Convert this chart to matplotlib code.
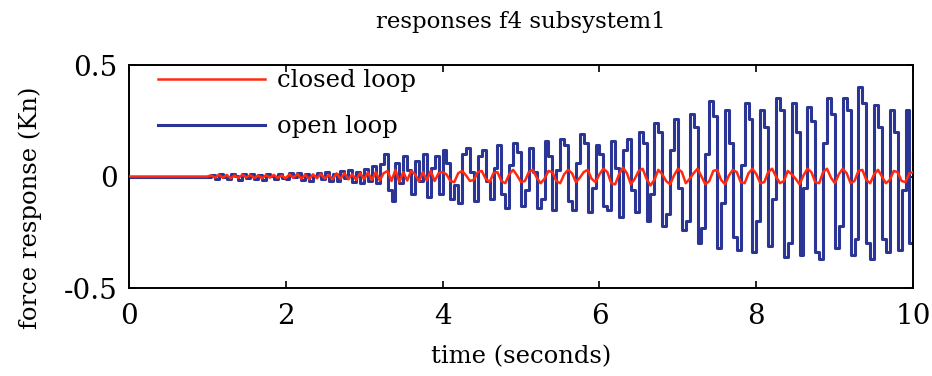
import numpy as np
import matplotlib
matplotlib.use("Agg")
import matplotlib.pyplot as plt

# ---- data (dt = 0.05 s, starting at t = 1.0 s) ----
t_start = 1.0
dt = 0.05

open_loop = [
    # 1.00 - 1.95 s
    0.0, 0.006, -0.01, 0.012, -0.004, -0.012, 0.01, 0.004, -0.014, 0.01,
    -0.005, 0.012, -0.01, 0.006, -0.014, 0.01, 0.002, -0.012, 0.012, -0.006,
    # 2.00 - 2.95 s
    -0.012, 0.015, -0.004, 0.018, -0.015, 0.01, -0.02, 0.004, 0.015, -0.012,
    0.02, -0.018, 0.012, -0.02, 0.025, -0.005, 0.03, -0.025, 0.02, -0.03,
    # 3.00 - 3.95 s
    0.035, -0.02, 0.045, -0.03, 0.055, 0.1, -0.06, -0.11, 0.06, -0.03,
    0.09, 0.03, -0.08, 0.07, -0.02, 0.1, -0.09, 0.04, 0.09, -0.08,
    # 4.00 - 4.95 s
    0.12, 0.06, -0.1, -0.04, -0.12, 0.1, 0.13, 0.02, -0.11, 0.09,
    0.12, -0.02, -0.1, 0.04, 0.14, -0.08, -0.14, 0.05, 0.15, 0.11,
    # 5.00 - 5.95 s
    -0.13, -0.06, 0.13, 0.02, -0.14, -0.1, 0.16, 0.09, -0.15, 0.03,
    0.17, 0.14, -0.11, -0.15, 0.06, 0.19, 0.15, -0.16, -0.05, 0.14,
    # 6.00 - 6.95 s
    0.1, -0.13, -0.15, 0.16, 0.04, -0.18, 0.12, 0.17, -0.06, -0.16,
    0.2, 0.15, -0.2, -0.08, 0.24, 0.2, -0.22, -0.17, 0.12, 0.26,
    # 7.00 - 7.95 s
    -0.05, -0.24, -0.2, 0.28, 0.22, -0.3, -0.23, 0.1, 0.34, 0.27,
    -0.32, -0.12, 0.3, 0.15, -0.27, -0.33, 0.05, 0.33, 0.26, -0.34,
    # 8.00 - 8.95 s
    -0.2, 0.3, 0.22, -0.31, -0.1, 0.35, 0.3, -0.36, -0.3, 0.33,
    0.2, -0.35, -0.05, 0.31, 0.25, -0.34, -0.37, 0.15, 0.35, 0.28,
    # 9.00 - 10.00 s
    -0.32, -0.22, 0.35, 0.3, -0.35, -0.28, 0.4, 0.33, -0.3, -0.37,
    0.32, 0.22, -0.28, -0.34, 0.3, 0.2, -0.33, -0.06, 0.3, -0.3,
    0.1,
]

closed_loop = [
    0.0, 0.005, -0.005, 0.008, -0.006, 0.007, -0.008, 0.005, -0.006, 0.008,
    -0.004, 0.006, -0.007, 0.005, -0.008, 0.006, -0.005, 0.007, -0.006, 0.005,
    -0.008, 0.01, -0.006, 0.012, -0.01, 0.008, -0.012, 0.01, -0.008, 0.012,
    -0.01, 0.008, -0.012, 0.014, -0.01, 0.015, -0.012, 0.01, -0.015, 0.016,
    -0.012, 0.018, -0.015, 0.02, -0.018, 0.015, 0.025, -0.02, 0.03, -0.025,
    0.02, -0.018, 0.025, 0.01, -0.022, 0.02, -0.018, 0.025, -0.02, 0.015,
    0.02, 0.01, -0.02, -0.025, 0.015, 0.025, 0.005, -0.02, -0.015, 0.02,
    0.025, -0.01, -0.025, 0.015, 0.02, -0.02, -0.03, 0.01, 0.03, 0.005,
    -0.025, -0.02, 0.02, 0.03, -0.005, -0.03, -0.01, 0.025, 0.02, -0.02,
    -0.03, 0.01, 0.03, 0.015, -0.025, -0.005, 0.02, 0.03, -0.01, -0.025,
    0.01, 0.035, 0.02, -0.03, -0.035, 0.01, 0.04, 0.015, -0.035, -0.01,
    0.025, 0.035, -0.01, -0.04, -0.015, 0.03, 0.01, -0.02, -0.035, 0.005,
    0.035, 0.02, -0.03, -0.01, 0.015, 0.035, 0.0, -0.035, -0.02, 0.025,
    0.03, -0.015, -0.035, 0.005, 0.03, 0.02, -0.025, -0.03, 0.015, 0.035,
    0.01, -0.03, -0.025, 0.02, 0.035, 0.0, -0.03, -0.02, 0.025, 0.01,
    -0.01, -0.035, 0.005, 0.035, 0.02, -0.025, -0.03, 0.02, 0.035, -0.005,
    -0.03, 0.01, 0.035, 0.015, -0.03, -0.02, 0.025, 0.03, -0.015, -0.03,
    0.01, 0.03, 0.0, -0.03, -0.015, 0.025, 0.02, -0.02, -0.025, 0.015,
    0.02,
]

x_ticks = [0, 2, 4, 6, 8, 10]
y_ticks = [-0.5, 0, 0.5]
y_ticklabels = ["-0.5", "0", "0.5"]

# ---- build time axes ----
t_open = np.concatenate([[0.0], t_start + dt * np.arange(len(open_loop))])
t_closed = np.concatenate([[0.0], t_start + dt * np.arange(len(closed_loop))])
y_open = np.concatenate([[0.0], open_loop])
y_closed = np.concatenate([[0.0], closed_loop])

plt.rcParams["font.family"] = ["DejaVu Serif", "Liberation Serif"]

fig = plt.figure(figsize=(9.32, 3.76), dpi=100)
ax = fig.add_axes([0.138, 0.234, 0.842, 0.593])

blue = "#2a3595"
red = "#ff2a10"

ax.plot(t_open, y_open, color=blue, lw=2.2, label="open loop", zorder=2,
        drawstyle="steps-post")
ax.plot(t_closed, y_closed, color=red, lw=1.8, label="closed loop", zorder=3)

ax.set_xlim(0, 10)
ax.set_ylim(-0.5, 0.5)
ax.set_xticks(x_ticks)
ax.set_yticks(y_ticks)
ax.set_yticklabels(y_ticklabels)
ax.tick_params(direction="in", top=True, right=True, length=5, width=1.2,
               labelsize=20, pad=11)
ax.tick_params(axis="y", pad=8)
for s in ax.spines.values():
    s.set_linewidth(1.4)

ax.set_title("responses f4 subsystem1", fontsize=16.5, pad=27)
ax.set_xlabel("time (seconds)", fontsize=17.5, labelpad=11)
ax.set_ylabel("force response (Kn)", fontsize=17.5)
ax.yaxis.set_label_coords(-0.11, 0.36)

h, l = ax.get_legend_handles_labels()
ax.legend([h[1], h[0]], [l[1], l[0]], loc="upper left", frameon=False,
          fontsize=17.5, handlelength=4.4, handletextpad=0.5,
          labelspacing=0.95, borderaxespad=0.0,
          bbox_to_anchor=(0.025, 1.025))

fig.savefig("out.png", dpi=100)
